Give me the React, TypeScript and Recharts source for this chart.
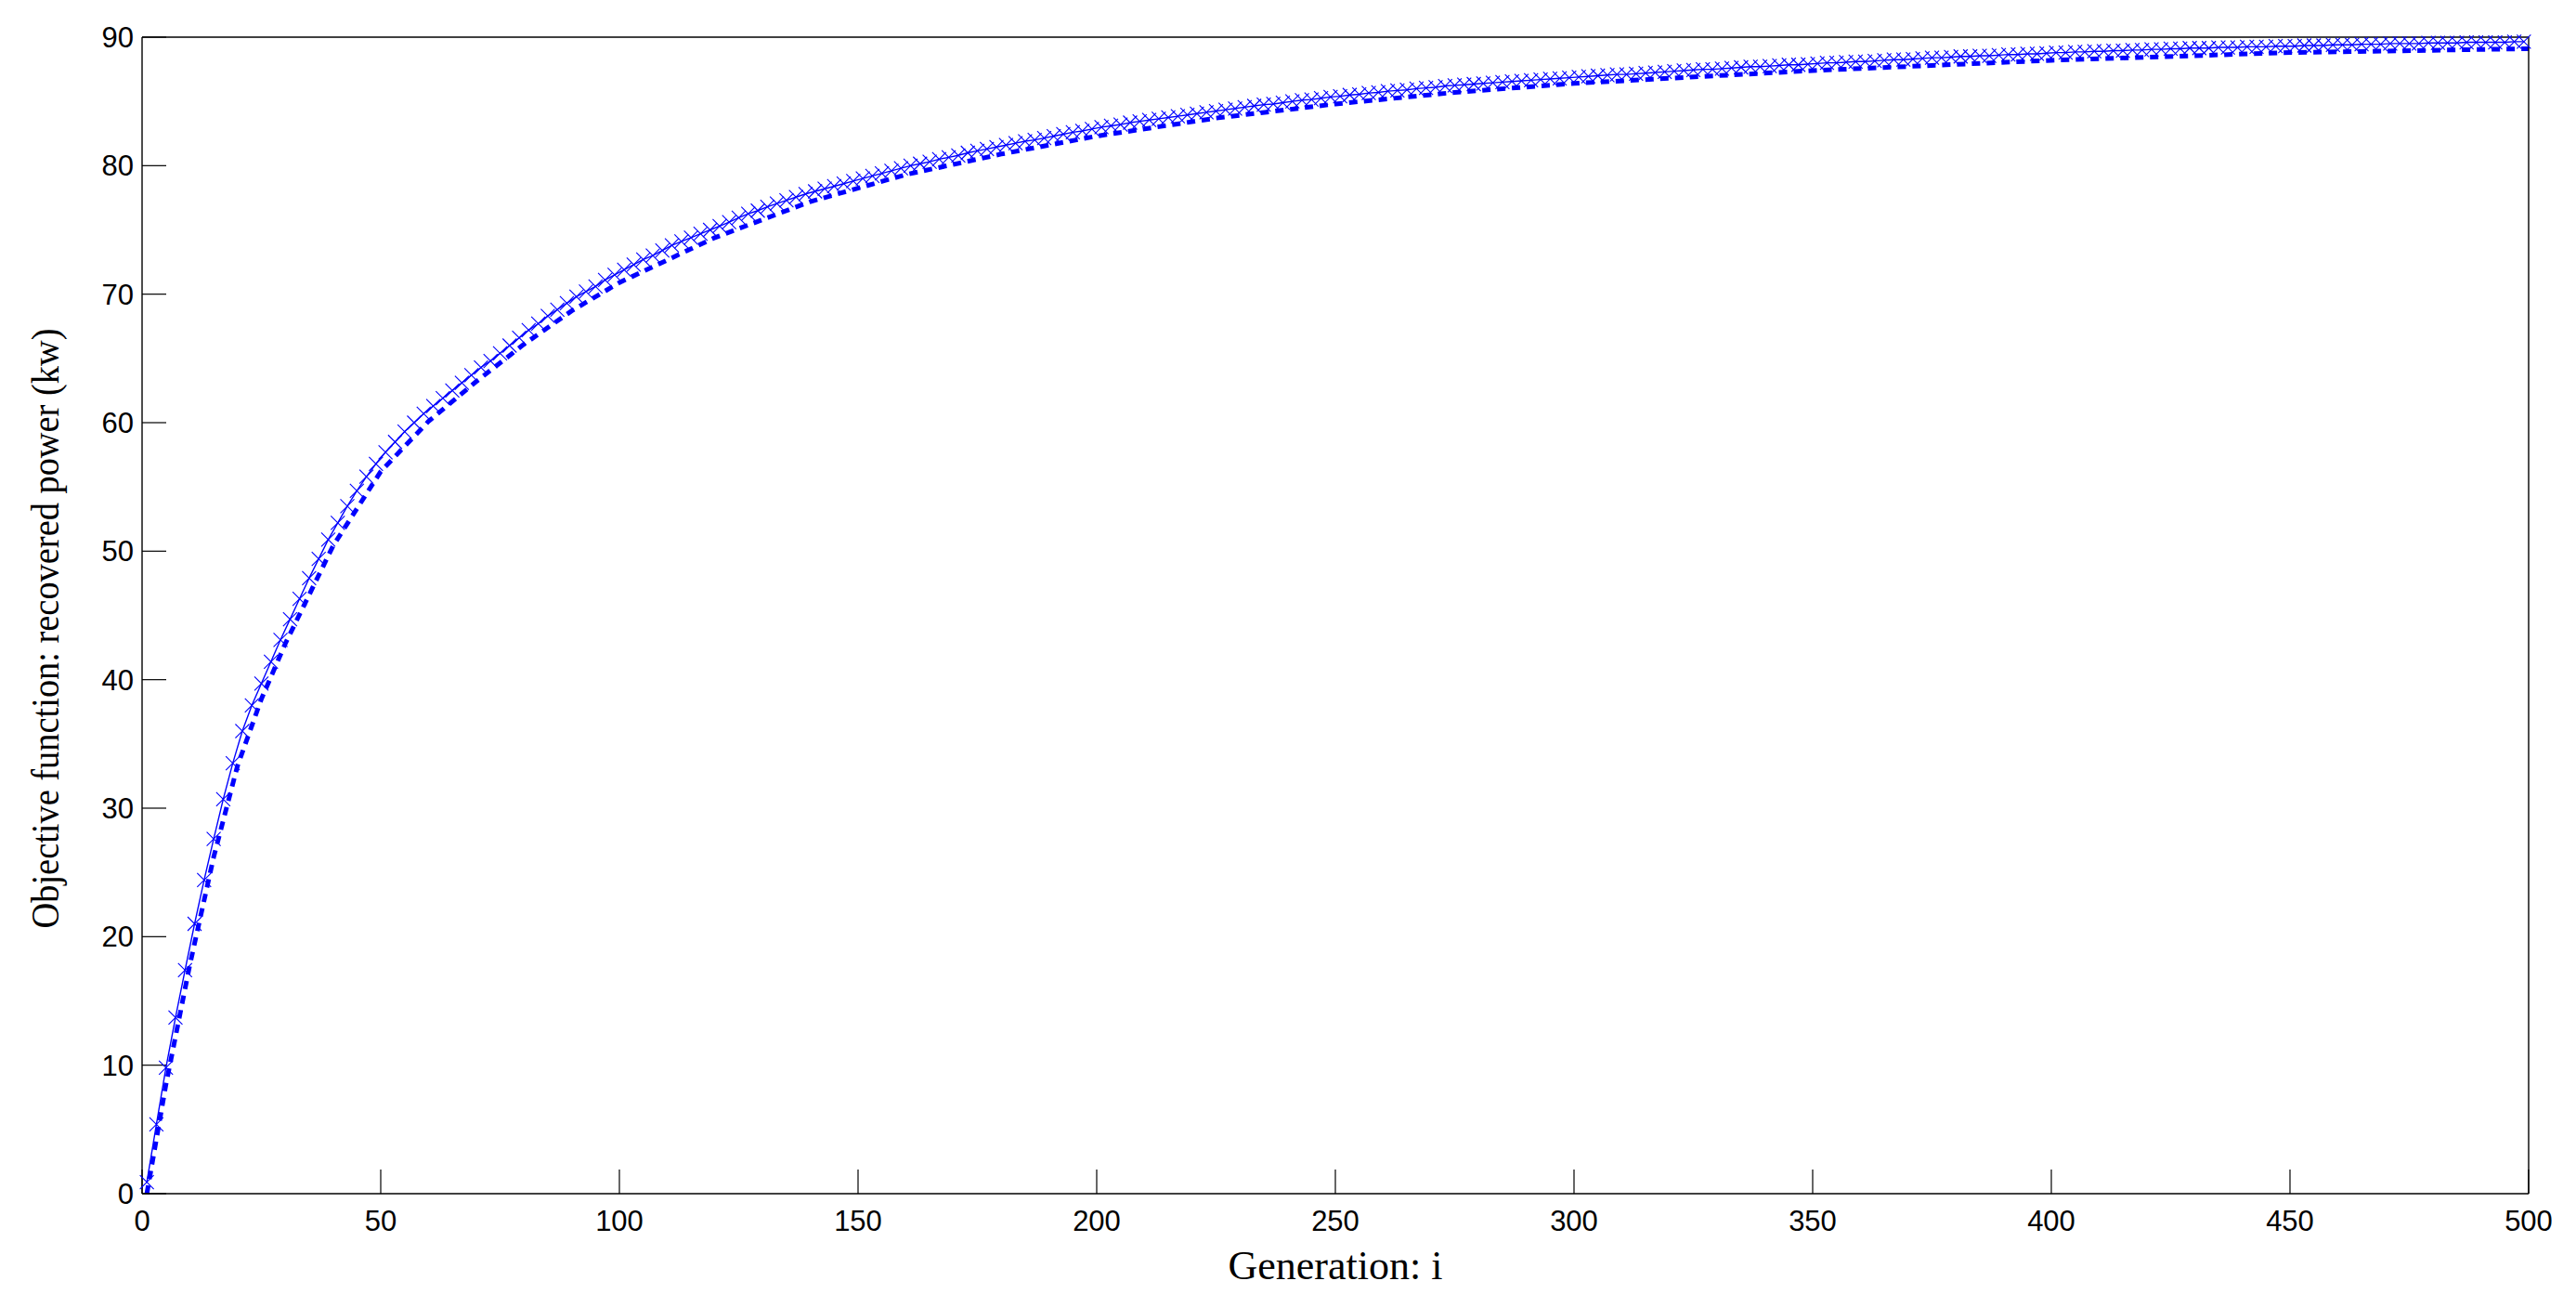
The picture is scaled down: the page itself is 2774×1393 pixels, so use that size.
import React from 'react';
import { LineChart, Line, XAxis, YAxis, Label } from 'recharts';

// Tick labels
const X_TICKS = [0, 50, 100, 150, 200, 250, 300, 350, 400, 450, 500];
const Y_TICKS = [0, 10, 20, 30, 40, 50, 60, 70, 80, 90];

// Series 1 ("x" markers + thin line): generations 1, 3, 5, ... 499
const FIRST_GEN = 1;
const GEN_STEP = 2;
const objectiveX = [
  0.9, 5.4, 9.8, 13.7, 17.4, 21.0, 24.4, 27.6, 30.7, 33.5,
  36.0, 38.0, 39.7, 41.4, 43.1, 44.7, 46.3, 47.9, 49.4, 50.9,
  52.2, 53.5, 54.7, 55.8, 56.8, 57.7, 58.5, 59.3, 60.0, 60.7,
  61.3, 61.9, 62.5, 63.1, 63.7, 64.3, 64.8, 65.4, 66.0, 66.6,
  67.2, 67.7, 68.3, 68.8, 69.3, 69.8, 70.2, 70.6, 71.1, 71.5,
  71.9, 72.3, 72.7, 73.0, 73.4, 73.8, 74.1, 74.4, 74.7, 75.0,
  75.3, 75.6, 75.95, 76.25, 76.5, 76.8, 77.05, 77.3, 77.55, 77.8,
  78.0, 78.2, 78.4, 78.6, 78.8, 79.0, 79.2, 79.4, 79.6, 79.8,
  80.0, 80.15, 80.3, 80.5, 80.65, 80.8, 81.0, 81.15, 81.3, 81.45,
  81.6, 81.75, 81.9, 82.0, 82.15, 82.3, 82.45, 82.6, 82.7, 82.85,
  83.0, 83.1, 83.2, 83.35, 83.45, 83.55, 83.65, 83.75, 83.85, 83.95,
  84.05, 84.15, 84.25, 84.35, 84.45, 84.55, 84.65, 84.75, 84.8, 84.9,
  85.0, 85.1, 85.15, 85.25, 85.35, 85.4, 85.5, 85.55, 85.65, 85.7,
  85.8, 85.85, 85.9, 86.0, 86.05, 86.1, 86.2, 86.25, 86.3, 86.35,
  86.4, 86.45, 86.5, 86.55, 86.6, 86.65, 86.7, 86.75, 86.8, 86.85,
  86.9, 86.95, 87.0, 87.05, 87.1, 87.1, 87.15, 87.2, 87.25, 87.3,
  87.35, 87.4, 87.45, 87.5, 87.5, 87.55, 87.6, 87.65, 87.7, 87.7,
  87.75, 87.8, 87.85, 87.85, 87.9, 87.95, 88.0, 88.0, 88.05, 88.1,
  88.1, 88.15, 88.2, 88.25, 88.25, 88.3, 88.35, 88.4, 88.4, 88.45,
  88.5, 88.5, 88.55, 88.55, 88.6, 88.65, 88.65, 88.7, 88.7, 88.75,
  88.8, 88.8, 88.85, 88.85, 88.9, 88.9, 88.95, 88.95, 89.0, 89.0,
  89.05, 89.05, 89.1, 89.1, 89.15, 89.15, 89.15, 89.2, 89.2, 89.2,
  89.25, 89.25, 89.25, 89.3, 89.3, 89.3, 89.35, 89.35, 89.35, 89.4,
  89.4, 89.4, 89.45, 89.45, 89.45, 89.5, 89.5, 89.5, 89.5, 89.55,
  89.55, 89.55, 89.55, 89.6, 89.6, 89.6, 89.6, 89.6, 89.65, 89.65,
];

// Series 2 (thick dotted line, slightly below)
const dottedGen = [1, 5, 10, 15, 20, 25, 30, 40, 50, 60, 70, 80, 90, 100, 120, 140, 160, 180, 200, 225, 250, 275, 300, 350, 400, 450, 500];
const dottedObjective = [0.0, 8.5, 17.8, 26.2, 33.3, 38.5, 42.8, 50.4, 56.2, 60.1, 63.2, 66.1, 68.7, 70.9, 74.4, 77.2, 79.3, 80.9, 82.3, 83.7, 84.8, 85.7, 86.4, 87.4, 88.2, 88.8, 89.1];

const dataX = objectiveX.map((v, i) => ({ gen: FIRST_GEN + GEN_STEP * i, val: v }));
const dataDotted = dottedGen.map((g, i) => ({ gen: g, val: dottedObjective[i] }));

const BLUE = '#0000ff';
const SANS = '"Liberation Sans", Arial, sans-serif';
const SERIF = '"Liberation Serif", "Times New Roman", serif';

const XMark = (props: any) => {
  const { cx, cy, index } = props;
  if (cx == null || cy == null) return <g key={`m-${index}`} />;
  const r = 7.5;
  return (
    <path
      key={`m-${index}`}
      d={`M${cx - r},${cy - r}L${cx + r},${cy + r}M${cx - r},${cy + r}L${cx + r},${cy - r}`}
      stroke={BLUE}
      strokeWidth={1.1}
      fill="none"
    />
  );
};

const tickStyle = { fontFamily: SANS, fontSize: 31, fill: '#000' };
const axisLine = { stroke: '#000', strokeWidth: 1.4 };
const tickLine = { stroke: '#000', strokeWidth: 1.2 };

export default function App() {
  return (
    <div style={{ width: 2758, height: 1385, background: '#fff', marginBottom: -8 }}>
      <LineChart
        width={2758}
        height={1385}
        margin={{ top: 31, right: 42, bottom: 0, left: 0 }}
      >
        <XAxis
          xAxisId="bottom"
          dataKey="gen"
          type="number"
          domain={[0, 500]}
          ticks={X_TICKS}
          interval={0}
          orientation="bottom"
          height={108}
          tickSize={-26}
          tickMargin={44}
          tick={tickStyle}
          axisLine={axisLine}
          tickLine={tickLine}
          allowDecimals={false}
        >
          <Label
            content={(p: any) => {
              const vb = p.viewBox || { x: 145, y: 1277, width: 2570, height: 108 };
              return (
                <text
                  x={vb.x + vb.width / 2}
                  y={vb.y + 92}
                  textAnchor="middle"
                  fontFamily={SERIF}
                  fontSize={44}
                  fill="#000"
                >
                  Generation: i
                </text>
              );
            }}
          />
        </XAxis>
        <XAxis
          xAxisId="top"
          dataKey="gen"
          type="number"
          domain={[0, 500]}
          ticks={X_TICKS}
          interval={0}
          orientation="top"
          height={1}
          tickSize={-26}
          tick={false}
          axisLine={axisLine}
          tickLine={tickLine}
        />
        <YAxis
          yAxisId="left"
          type="number"
          domain={[0, 90]}
          ticks={Y_TICKS}
          interval={0}
          orientation="left"
          width={145}
          tickSize={-26}
          tickMargin={35}
          tick={tickStyle}
          axisLine={axisLine}
          tickLine={tickLine}
        >
          <Label
            content={(p: any) => {
              const vb = p.viewBox || { x: 0, y: 32, width: 145, height: 1245 };
              const cx = vb.x + 40;
              const cy = vb.y + vb.height / 2 + 14;
              return (
                <text
                  x={cx}
                  y={cy}
                  transform={`rotate(-90, ${cx}, ${cy})`}
                  textAnchor="middle"
                  dominantBaseline="central"
                  fontFamily={SERIF}
                  fontSize={43}
                  textLength={646}
                  lengthAdjust="spacingAndGlyphs"
                  fill="#000"
                >
                  Objective function: recovered power (kw)
                </text>
              );
            }}
          />
        </YAxis>
        <YAxis
          yAxisId="right"
          type="number"
          domain={[0, 90]}
          ticks={Y_TICKS}
          interval={0}
          orientation="right"
          width={1}
          tickSize={-26}
          tick={false}
          axisLine={axisLine}
          tickLine={tickLine}
        />
        <Line
          xAxisId="bottom"
          yAxisId="left"
          data={dataDotted}
          dataKey="val"
          type="linear"
          stroke={BLUE}
          strokeWidth={5}
          strokeDasharray="9 7"
          dot={false}
          activeDot={false}
          isAnimationActive={false}
        />
        <Line
          xAxisId="bottom"
          yAxisId="left"
          data={dataX}
          dataKey="val"
          type="linear"
          stroke={BLUE}
          strokeWidth={1.4}
          dot={XMark}
          activeDot={false}
          isAnimationActive={false}
        />
      </LineChart>
    </div>
  );
}
